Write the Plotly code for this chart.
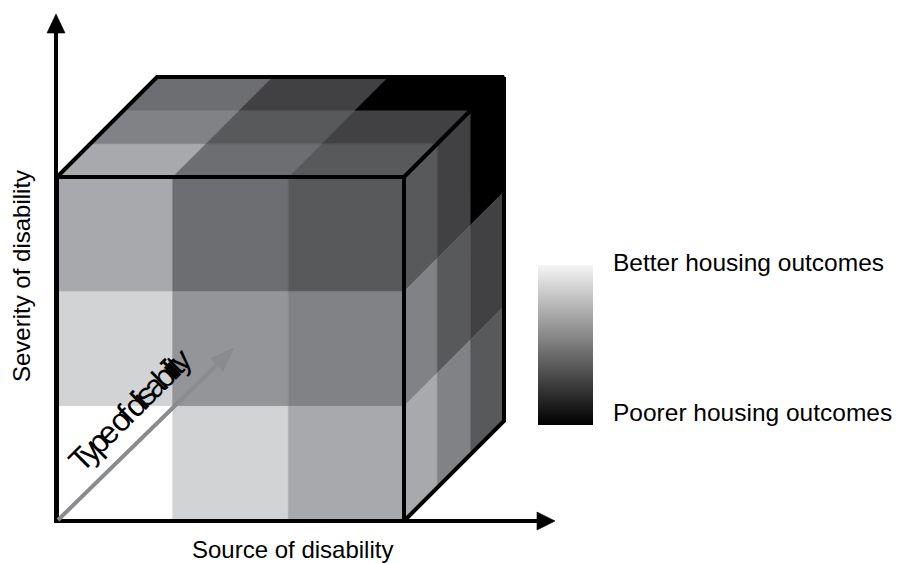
import numpy as np
import plotly.graph_objects as go

# ---------------- data ----------------
# outcome score per cell (0 = best outcome / white, 7 = poorest / black)
# front face (type = first layer): rows from top severity to bottom, columns = source
front_scores = [[2, 4, 5],
                [1, 2.5, 3],
                [0, 1, 2]]
# top face (highest severity): rows = type layer (front -> back), columns = source
top_scores = [[2, 4, 5],
              [3, 5, 6],
              [4, 6, 7]]
# right face (last source): rows = severity (top -> bottom), columns = type layer (front -> back)
right_scores = [[5, 6, 7],
                [3, 5, 6],
                [2, 3, 5]]
score_levels = [0, 1, 2, 2.5, 3, 4, 5, 6, 7]
grey_palette = ["#ffffff", "#d1d3d4", "#a7a9ac", "#939598", "#808285",
                "#6d6e71", "#58595b", "#414042", "#000000"]
axis_labels = ["Severity of disability", "Source of disability", "Type of disability"]
legend_labels = ["Better housing outcomes", "Poorer housing outcomes"]

colour_of = dict(zip(score_levels, grey_palette))

# ---------------- geometry ----------------
X0, Y0 = 57, 521          # front-bottom-left corner (pixels, y downward)
W, H = 347, 344           # front face size
DX, DY = 100, -100        # depth vector
n = 3

fig = go.Figure()


def poly(xs, ys, colour):
    fig.add_trace(go.Scatter(x=list(xs) + [xs[0]], y=list(ys) + [ys[0]], mode="lines",
                             fill="toself", fillcolor=colour,
                             line=dict(color=colour, width=0.6),
                             hoverinfo="skip", showlegend=False))


def line(xs, ys, colour="#000000", width=4):
    fig.add_trace(go.Scatter(x=xs, y=ys, mode="lines",
                             line=dict(color=colour, width=width),
                             hoverinfo="skip", showlegend=False))


cw, ch = W / n, H / n
# front face
for r in range(n):
    v = n - 1 - r
    for s in range(n):
        x1, x2 = X0 + s * cw, X0 + (s + 1) * cw
        y1, y2 = Y0 - v * ch, Y0 - (v + 1) * ch
        poly([x1, x2, x2, x1], [y1, y1, y2, y2], colour_of[front_scores[r][s]])

# top face
ytop = Y0 - H
for t in range(n):
    for s in range(n):
        def P(ss, tt):
            return X0 + ss * cw + tt * DX / n, ytop + tt * DY / n
        pts = [P(s, t), P(s + 1, t), P(s + 1, t + 1), P(s, t + 1)]
        poly([p[0] for p in pts], [p[1] for p in pts], colour_of[top_scores[t][s]])

# right face
xr = X0 + W
for r in range(n):
    v = n - 1 - r
    for t in range(n):
        def Q(tt, vv):
            return xr + tt * DX / n, Y0 - vv * ch + tt * DY / n
        pts = [Q(t, v), Q(t + 1, v), Q(t + 1, v + 1), Q(t, v + 1)]
        poly([p[0] for p in pts], [p[1] for p in pts], colour_of[right_scores[r][t]])

# cube outline
line([X0, xr, xr, X0, X0], [ytop, ytop, Y0, Y0, ytop])
line([X0, X0 + DX, xr + DX, xr], [ytop, ytop + DY, ytop + DY, ytop])
line([xr + DX, xr + DX, xr], [ytop + DY, Y0 + DY, Y0])

# axes with arrowheads
line([X0 - 1, X0 - 1], [Y0 + 2, 30], width=4)
poly([X0 - 10, X0 + 8, X0 - 1], [33, 33, 14], "#000000")
line([X0 - 3, 540], [Y0, Y0], width=4)
poly([537, 537, 555], [Y0 - 9, Y0 + 9, Y0], "#000000")

# grey "type" arrow
tip = np.array([234.0, 348.0])
start = np.array([X0 + 1.0, Y0 - 1.0])
u = (tip - start) / np.linalg.norm(tip - start)
perp = np.array([u[1], -u[0]])
base = tip - u * 24
line([start[0], base[0] + u[0] * 4], [start[1], base[1] + u[1] * 4], colour="#8a8b8e", width=4)
a = base + perp * 9
b = base - perp * 9
poly([a[0], tip[0], b[0]], [a[1], tip[1], b[1]], "#8a8b8e")

# gradient legend bar
grad = np.linspace(0, 1, 160).reshape(-1, 1)
fig.add_trace(go.Heatmap(z=grad, x0=565.5, dx=55, y0=265.5, dy=1,
                         colorscale=[[0, "#f4f4f4"], [1, "#000000"]],
                         showscale=False, hoverinfo="skip"))

font = dict(family="Liberation Sans, Arial, sans-serif", color="#000000")
annotations = [
    dict(x=21, y=276, text=axis_labels[0], textangle=-90, font=dict(size=24, **font)),
    dict(x=292, y=549, text=axis_labels[1], font=dict(size=24, **font)),
    dict(x=130, y=410, text='<span style="letter-spacing:-4.6px">' + axis_labels[2] + '</span>',
         textangle=-45, font=dict(size=32, **font)),
    dict(x=611, y=262, text=legend_labels[0], xanchor="left", font=dict(size=24.5, **font)),
    dict(x=611, y=412, text=legend_labels[1], xanchor="left", font=dict(size=24.5, **font)),
]
for ann in annotations:
    ann.update(xref="x", yref="y", showarrow=False)

fig.update_layout(
    width=904, height=563, margin=dict(l=0, r=0, t=0, b=0),
    paper_bgcolor="#ffffff", plot_bgcolor="#ffffff",
    xaxis=dict(range=[0, 904], visible=False, fixedrange=True),
    yaxis=dict(range=[563, 0], visible=False, fixedrange=True),
    annotations=annotations,
)
fig.write_html("out.html", config={"displayModeBar": False},
               post_script="document.body.style.margin='0px';document.body.style.overflow='hidden';")
